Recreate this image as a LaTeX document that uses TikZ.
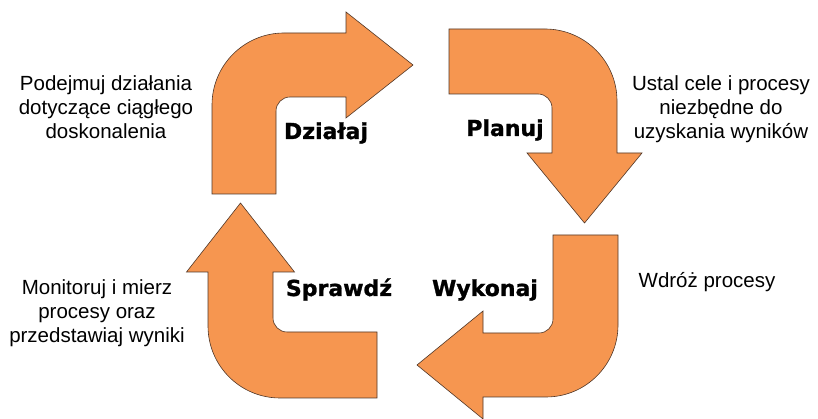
\documentclass[tikz,border=0pt]{standalone}
\usepackage{fontspec}
\setmainfont{Liberation Sans}
\newfontfamily\heavyfont{DejaVu Sans}[BoldFeatures={FakeBold=1.2}]
\definecolor{pdcaorange}{RGB}{246,150,80}
\definecolor{pdcaedge}{RGB}{80,55,40}
\tikzset{
  bent/.style={fill=pdcaorange, draw=pdcaedge, line width=.6pt, line join=miter},
  phase/.style={font=\heavyfont\bfseries\fontsize{22}{26}\selectfont, anchor=base, inner sep=0pt},
  note/.style={font=\fontsize{20.5}{24}\selectfont, align=center, anchor=base, inner sep=0pt}
}
\begin{document}
\begin{tikzpicture}[x=1pt, y=1pt]
  \useasboundingbox (0,0) rectangle (818,419);
  % Dzialaj (top left)
  \draw[bent] (212,225) -- (212,314) arc[start angle=180, end angle=90, radius=72pt]
    -- (346,386) -- (346,407) -- (413,354) -- (346,301) -- (346,322) -- (290,322)
    arc[start angle=90, end angle=180, radius=14pt] -- (276,225) -- cycle;
  % Planuj (top right)
  \draw[bent] (449,390) -- (545,390) arc[start angle=90, end angle=0, radius=72pt]
    -- (617,266) -- (642,266) -- (584.5,196) -- (527,266) -- (552,266) -- (552,311)
    arc[start angle=0, end angle=90, radius=14pt] -- (449,325) -- cycle;
  % Wykonaj (bottom right)
  \draw[bent] (618,184) -- (618,94) arc[start angle=0, end angle=-90, radius=72pt]
    -- (483,22) -- (483,0) -- (417,54) -- (483,108) -- (483,86) -- (539,86)
    arc[start angle=270, end angle=360, radius=14pt] -- (553,184) -- cycle;
  % Sprawdz (bottom left)
  \draw[bent] (377,21) -- (280,21) arc[start angle=270, end angle=180, radius=72pt]
    -- (208,147) -- (186.5,147) -- (240.5,216) -- (294.5,147) -- (273,147) -- (273,101)
    arc[start angle=180, end angle=270, radius=14pt] -- (377,87) -- cycle;
  \foreach \n/\x/\y/\t in {dzialaj/326/280/Działaj, planuj/505/283/Planuj,
      sprawdz/339/123/Sprawdź, wykonaj/485/123/Wykonaj}
    \node[phase] (\n) at (\x,\y) {\t};
  \node[note] (act) at (106,280) {Podejmuj działania\\dotyczące ciągłego\\doskonalenia};
  \node[note] (plan) at (721,280) {Ustal cele i procesy\\niezbędne do\\uzyskania wyników};
  \node[note] (check) at (97,76) {Monitoruj i mierz\\procesy oraz\\przedstawiaj wyniki};
  \node[note] (do) at (707,131) {Wdróż procesy};
\end{tikzpicture}
\end{document}
